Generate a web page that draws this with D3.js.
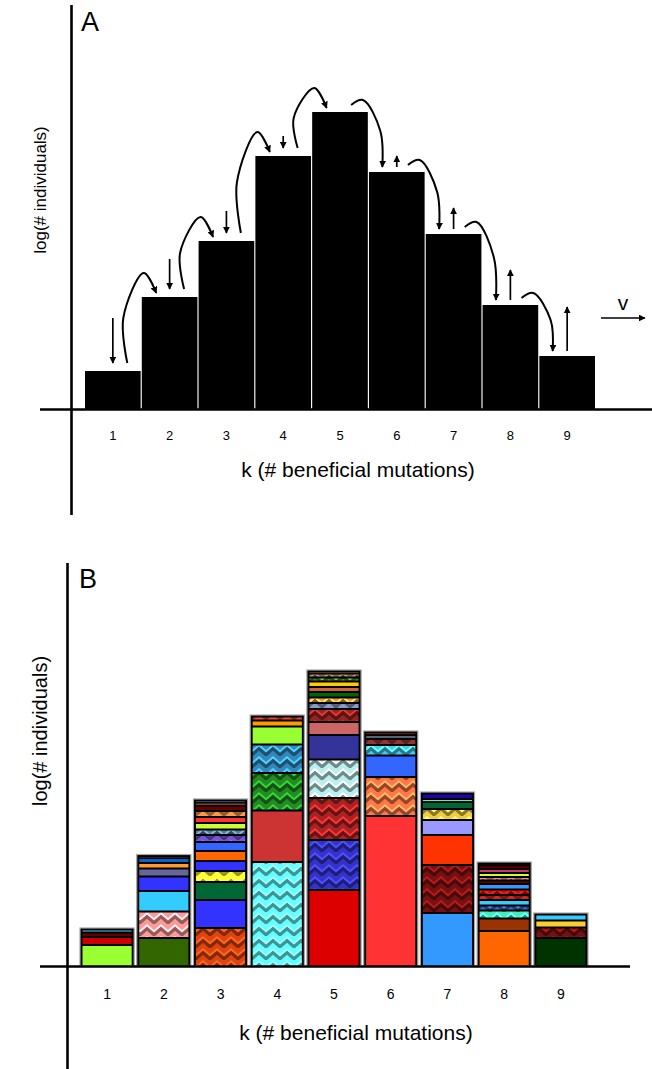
<!DOCTYPE html>
<html>
<head>
<meta charset="utf-8">
<script src="https://cdn.jsdelivr.net/npm/d3@7"></script>
<style>
  body { margin: 0; background: #fff; }
  svg { display: block; font-family: "Liberation Sans", Arial, sans-serif; }
</style>
</head>
<body>
<svg id="fig" width="652" height="1069"></svg>
<script>
// ---- data -------------------------------------------------------------
// fitness classes k (number of beneficial mutations carried)
const kClasses = [1, 2, 3, 4, 5, 6, 7, 8, 9];
const tickLabels = ["1", "2", "3", "4", "5", "6", "7", "8", "9"];

// panel A: log(# individuals) in each class (arbitrary units)
const logIndividuals = [38, 112, 168, 253, 297, 237, 175, 104, 53];

// panel A: selection arrows (positive = class growing, negative = shrinking)
const selectionArrow = [45, 30, 22, 12, 0, -11, -21, -30, -44];

// panel B: contribution of each lineage to each class, bottom to top
const lineageSizes = [
  [21, 8, 4.5, 4.5],
  [28, 26.5, 20.5, 14.5, 8, 5.5, 5, 3.5],
  [38, 28, 18, 11, 10, 10, 9, 7, 5.5, 6.5, 6, 6, 5, 3.5, 3.5],
  [104, 51.5, 37.5, 28.5, 18, 6, 5.5],
  [76, 50, 42, 38.5, 24.5, 13, 13, 6, 5.5, 5.5, 5, 5.5, 4, 4, 3.5],
  [150, 39, 21.5, 10.5, 6, 4, 4],
  [53, 48, 30, 15, 11, 7, 3, 7],
  [35, 12.5, 8, 5, 5.5, 5, 5.5, 5.5, 3.5, 3.5, 4, 4, 3.5, 3.5],
  [28, 10.5, 7, 7.5]
];

// ---- lineage styling --------------------------------------------------
const lineageFill = [
  ["#99ff33", "#cc0000", "#660000", "#33ddff"],
  ["#336600", "#ff9999", "#33ccff", "#3333ff", "#666699", "#ff9933", "#0066cc", "#4d3333"],
  ["#dd4411", "#3333ff", "#006633", "#ffff33", "#3333ff", "#ff6600", "#3366ff", "#7755dd",
   "#557799", "#ccff33", "#ff3333", "#ff9944", "#660000", "#993333", "#3399cc"],
  ["#66ffff", "#cc3333", "#228b22", "#3388bb", "#99ff33", "#ff9900", "#ee4444"],
  ["#dd0000", "#3333cc", "#aa2222", "#bbeeee", "#333399", "#cc6666", "#992222", "#8899cc",
   "#ee9944", "#006600", "#cc6633", "#ffcc00", "#558833", "#776655", "#aa6633"],
  ["#ff3333", "#ff7744", "#3366ff", "#44ccee", "#993333", "#556677", "#cc3333"],
  ["#3399ff", "#771111", "#ff3300", "#9999ff", "#eecc44", "#006633", "#33ffcc", "#2200aa"],
  ["#ff6600", "#993300", "#44eebb", "#4466cc", "#33ccff", "#dd2222", "#cc1111", "#3399ff",
   "#660000", "#996666", "#ccff33", "#cc3366", "#660000", "#330000"],
  ["#003300", "#771111", "#ffcc33", "#33ccff"]
];
const lineageTextured = [
  [0, 0, 0, 0],
  [0, 1, 0, 0, 0, 0, 0, 0],
  [1, 0, 0, 1, 0, 0, 0, 1, 1, 0, 0, 1, 0, 0, 0],
  [1, 0, 1, 1, 0, 0, 1],
  [0, 1, 1, 1, 0, 0, 1, 1, 1, 0, 0, 0, 1, 1, 0],
  [0, 1, 0, 1, 1, 0, 0],
  [0, 1, 0, 0, 1, 0, 0, 0],
  [0, 0, 1, 1, 0, 1, 1, 0, 0, 1, 0, 0, 0, 0],
  [0, 1, 0, 0]
];

// ---- setup ------------------------------------------------------------
const svg = d3.select("#fig");
const defs = svg.append("defs");

defs.append("marker")
  .attr("id", "tip")
  .attr("viewBox", "0 0 10 10")
  .attr("refX", 9).attr("refY", 5)
  .attr("markerUnits", "userSpaceOnUse")
  .attr("markerWidth", 7).attr("markerHeight", 7)
  .attr("orient", "auto")
  .append("path").attr("d", "M0,0L10,5L0,10z").attr("fill", "#000");

// embossed chevron texture for some lineages
const patternId = c => "tex" + c.slice(1);
const texturedColors = new Set();
lineageFill.forEach((cols, i) => cols.forEach((c, j) => { if (lineageTextured[i][j]) texturedColors.add(c); }));
texturedColors.forEach(c => {
  const p = defs.append("pattern")
    .attr("id", patternId(c))
    .attr("patternUnits", "userSpaceOnUse")
    .attr("width", 14).attr("height", 12);
  p.append("rect").attr("width", 14).attr("height", 12).attr("fill", c);
  p.append("path")
    .attr("d", "M-7,4.5L0,10.5L7,4.5L14,10.5L21,4.5")
    .attr("fill", "none").attr("stroke", d3.color(c).darker(1.5)).attr("stroke-width", 3.6);
  p.append("path")
    .attr("d", "M-7,1.2L0,7.2L7,1.2L14,7.2L21,1.2")
    .attr("fill", "none").attr("stroke", d3.color(c).brighter(1.2)).attr("stroke-width", 2);
});

function axisFrame(g, x0, yTop, yBottom, xLeft, xRight, yBase) {
  g.append("line").attr("x1", x0).attr("x2", x0).attr("y1", yTop).attr("y2", yBottom)
    .attr("stroke", "#000").attr("stroke-width", 2.6);
  g.append("line").attr("x1", xLeft).attr("x2", xRight).attr("y1", yBase).attr("y2", yBase)
    .attr("stroke", "#000").attr("stroke-width", 2.6);
}

function tickAxis(g, scale, yBase, pad, size) {
  const ax = g.append("g")
    .attr("transform", `translate(0,${yBase})`)
    .call(d3.axisBottom(scale).tickSize(0).tickPadding(pad).tickFormat((d, i) => tickLabels[i]));
  ax.select(".domain").remove();
  ax.selectAll("text").attr("font-family", "Liberation Sans, Arial, sans-serif")
    .attr("font-size", size).attr("fill", "#000");
}

// ---- panel A ----------------------------------------------------------
const gA = svg.append("g");
const xA = d3.scaleBand().domain(kClasses).range([85, 595]).paddingInner(0.02);
const yA = d3.scaleLinear().domain([0, 400]).range([409, 9]);

gA.selectAll("rect.bar").data(kClasses).join("rect")
  .attr("class", "bar")
  .attr("x", k => xA(k))
  .attr("width", xA.bandwidth())
  .attr("y", (k, i) => yA(logIndividuals[i]))
  .attr("height", (k, i) => yA(0) - yA(logIndividuals[i]))
  .attr("fill", "#000");

const topA = i => yA(logIndividuals[i]);
const atA = (i, f) => xA(kClasses[i]) + f * xA.bandwidth();
const arcLine = d3.line().curve(d3.curveCatmullRom.alpha(0.5));

// mutation flux: arcs carrying individuals from class k to k+1
const arcs = d3.range(kClasses.length - 1).map(i => {
  const rising = logIndividuals[i + 1] > logIndividuals[i];
  if (rising) {
    const sx = atA(i, 0.76), sy = topA(i) - 8;
    const ex = atA(i + 1, 0.26), ey = topA(i + 1) - 4;
    const pk = topA(i + 1) - 24;
    return [[sx, sy], [sx - 4, (sy + pk) / 2], [(sx + ex) / 2 + 2, pk], [ex, ey]];
  }
  const sx = atA(i, 0.7), sy = topA(i) - 7;
  const ex = atA(i + 1, 0.24), ey = topA(i + 1) - 5;
  return [[sx, sy], [sx + 0.38 * (ex - sx), sy - 5], [ex - 2, sy + 0.42 * (ey - sy)], [ex, ey]];
});
gA.selectAll("path.flux").data(arcs).join("path")
  .attr("class", "flux")
  .attr("d", arcLine)
  .attr("fill", "none").attr("stroke", "#000").attr("stroke-width", 2)
  .attr("marker-end", "url(#tip)");

// selection arrows
const selData = selectionArrow.map((len, i) => ({ len, i })).filter(d => d.len !== 0);
gA.selectAll("line.sel").data(selData).join("line")
  .attr("class", "sel")
  .attr("x1", d => atA(d.i, 0.5)).attr("x2", d => atA(d.i, 0.5))
  .attr("y1", d => d.len > 0 ? topA(d.i) - 8 - d.len : topA(d.i) - 5)
  .attr("y2", d => d.len > 0 ? topA(d.i) - 8 : topA(d.i) - 5 + d.len)
  .attr("stroke", "#000").attr("stroke-width", 1.7)
  .attr("marker-end", "url(#tip)");

// travelling-wave velocity
const vx = xA.range()[1] + 6, vy = yA(0) - 91;
gA.append("line").attr("x1", vx).attr("x2", vx + 44).attr("y1", vy).attr("y2", vy)
  .attr("stroke", "#000").attr("stroke-width", 1.6).attr("marker-end", "url(#tip)");
gA.append("text").attr("x", vx + 22).attr("y", vy - 8).attr("text-anchor", "middle")
  .attr("font-size", 21).text("v");

axisFrame(gA, 71.5, 5, 515, 40, 652, 409.5);
tickAxis(gA, xA, 409, 22, 13);

gA.append("text").attr("x", 81).attr("y", 31).attr("font-size", 27).text("A");
gA.append("text").attr("transform", "translate(46,190) rotate(-90)")
  .attr("text-anchor", "middle").attr("font-size", 17).text("log(# individuals)");
gA.append("text").attr("x", 358).attr("y", 477).attr("text-anchor", "middle")
  .attr("font-size", 21).text("k (# beneficial mutations)");

// ---- panel B ----------------------------------------------------------
const gB = svg.append("g");
const xB = d3.scaleBand().domain(kClasses).range([80, 588]).paddingInner(0.045);
const yB = d3.scaleLinear().domain([0, 400]).range([966, 566]);
const bwB = xB.bandwidth();

const columns = gB.selectAll("g.col").data(kClasses).join("g").attr("class", "col");

columns.append("rect")
  .attr("x", k => xB(k))
  .attr("width", bwB)
  .attr("y", (k, i) => yB(d3.sum(lineageSizes[i])))
  .attr("height", (k, i) => yB(0) - yB(d3.sum(lineageSizes[i])))
  .attr("fill", "#000").attr("stroke", "#a8a8a8").attr("stroke-width", 1.2);

columns.each(function (k, i) {
  const sizes = lineageSizes[i];
  let cum = 0;
  const segs = sizes.map((v, j) => {
    const s = { j, c0: cum, c1: cum + v };
    cum += v;
    return s;
  });
  const last = sizes.length - 1;
  d3.select(this).selectAll("rect.seg").data(segs).join("rect")
    .attr("class", "seg")
    .attr("x", xB(k) + 2.5)
    .attr("width", bwB - 5)
    .attr("y", s => yB(s.c1) + (s.j === last ? 2.5 : 1))
    .attr("height", s => Math.max(0.6, (yB(s.c0) - (s.j === 0 ? 0 : 1)) - (yB(s.c1) + (s.j === last ? 2.5 : 1))))
    .attr("fill", s => lineageTextured[i][s.j] ? `url(#${patternId(lineageFill[i][s.j])})` : lineageFill[i][s.j]);
});

axisFrame(gB, 67.5, 563, 1069, 40, 630, 966.5);
tickAxis(gB, xB, 966, 23, 14);

gB.append("text").attr("x", 79).attr("y", 588).attr("font-size", 27).text("B");
gB.append("text").attr("transform", "translate(47,731) rotate(-90)")
  .attr("text-anchor", "middle").attr("font-size", 20).text("log(# individuals)");
gB.append("text").attr("x", 356).attr("y", 1040).attr("text-anchor", "middle")
  .attr("font-size", 21).text("k (# beneficial mutations)");
</script>
</body>
</html>
